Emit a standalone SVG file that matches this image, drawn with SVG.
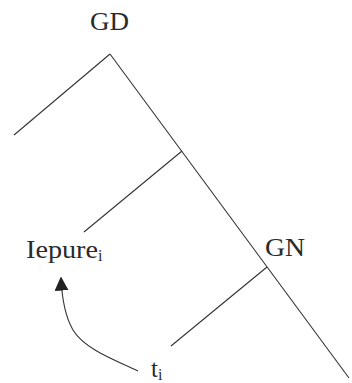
<svg xmlns="http://www.w3.org/2000/svg" width="352" height="383" viewBox="0 0 352 383">
<defs>
<style>
.ln{stroke:#333;stroke-width:1.1;fill:none}
.t{font-family:"Liberation Serif","Times New Roman",serif;font-weight:normal;fill:#2a2a2a;font-size:25px}
.s{font-size:16px}
</style>
<marker id="ah" viewBox="0 0 10 10" refX="9" refY="5" markerWidth="14" markerHeight="14" markerUnits="userSpaceOnUse" orient="auto">
<path d="M0,0 L10,5 L0,10 Z" fill="#222"/>
</marker>
</defs>
<g id="connectors">
<path class="ln" d="M110,54 L349,378"/>
<path class="ln" d="M110,54 L14,135"/>
<path class="ln" d="M182,151 L84,232"/>
<path class="ln" d="M267,267 L171,346"/>
<path class="ln" d="M138,371 C110,358 84,348 73,330 C66,318 62,300 61,278" marker-end="url(#ah)"/>
</g>
<g id="GD"><text class="t" x="90" y="30" textLength="39" lengthAdjust="spacingAndGlyphs">GD</text></g>
<g id="GN"><text class="t" x="265" y="256" textLength="40" lengthAdjust="spacingAndGlyphs">GN</text></g>
<g id="Iepure"><text class="t" x="26" y="258"><tspan textLength="72" lengthAdjust="spacingAndGlyphs">Iepure</tspan><tspan class="s" dy="3">i</tspan></text></g>
<g id="ti"><text class="t" x="151" y="377">t<tspan class="s" dy="3">i</tspan></text></g>
</svg>
